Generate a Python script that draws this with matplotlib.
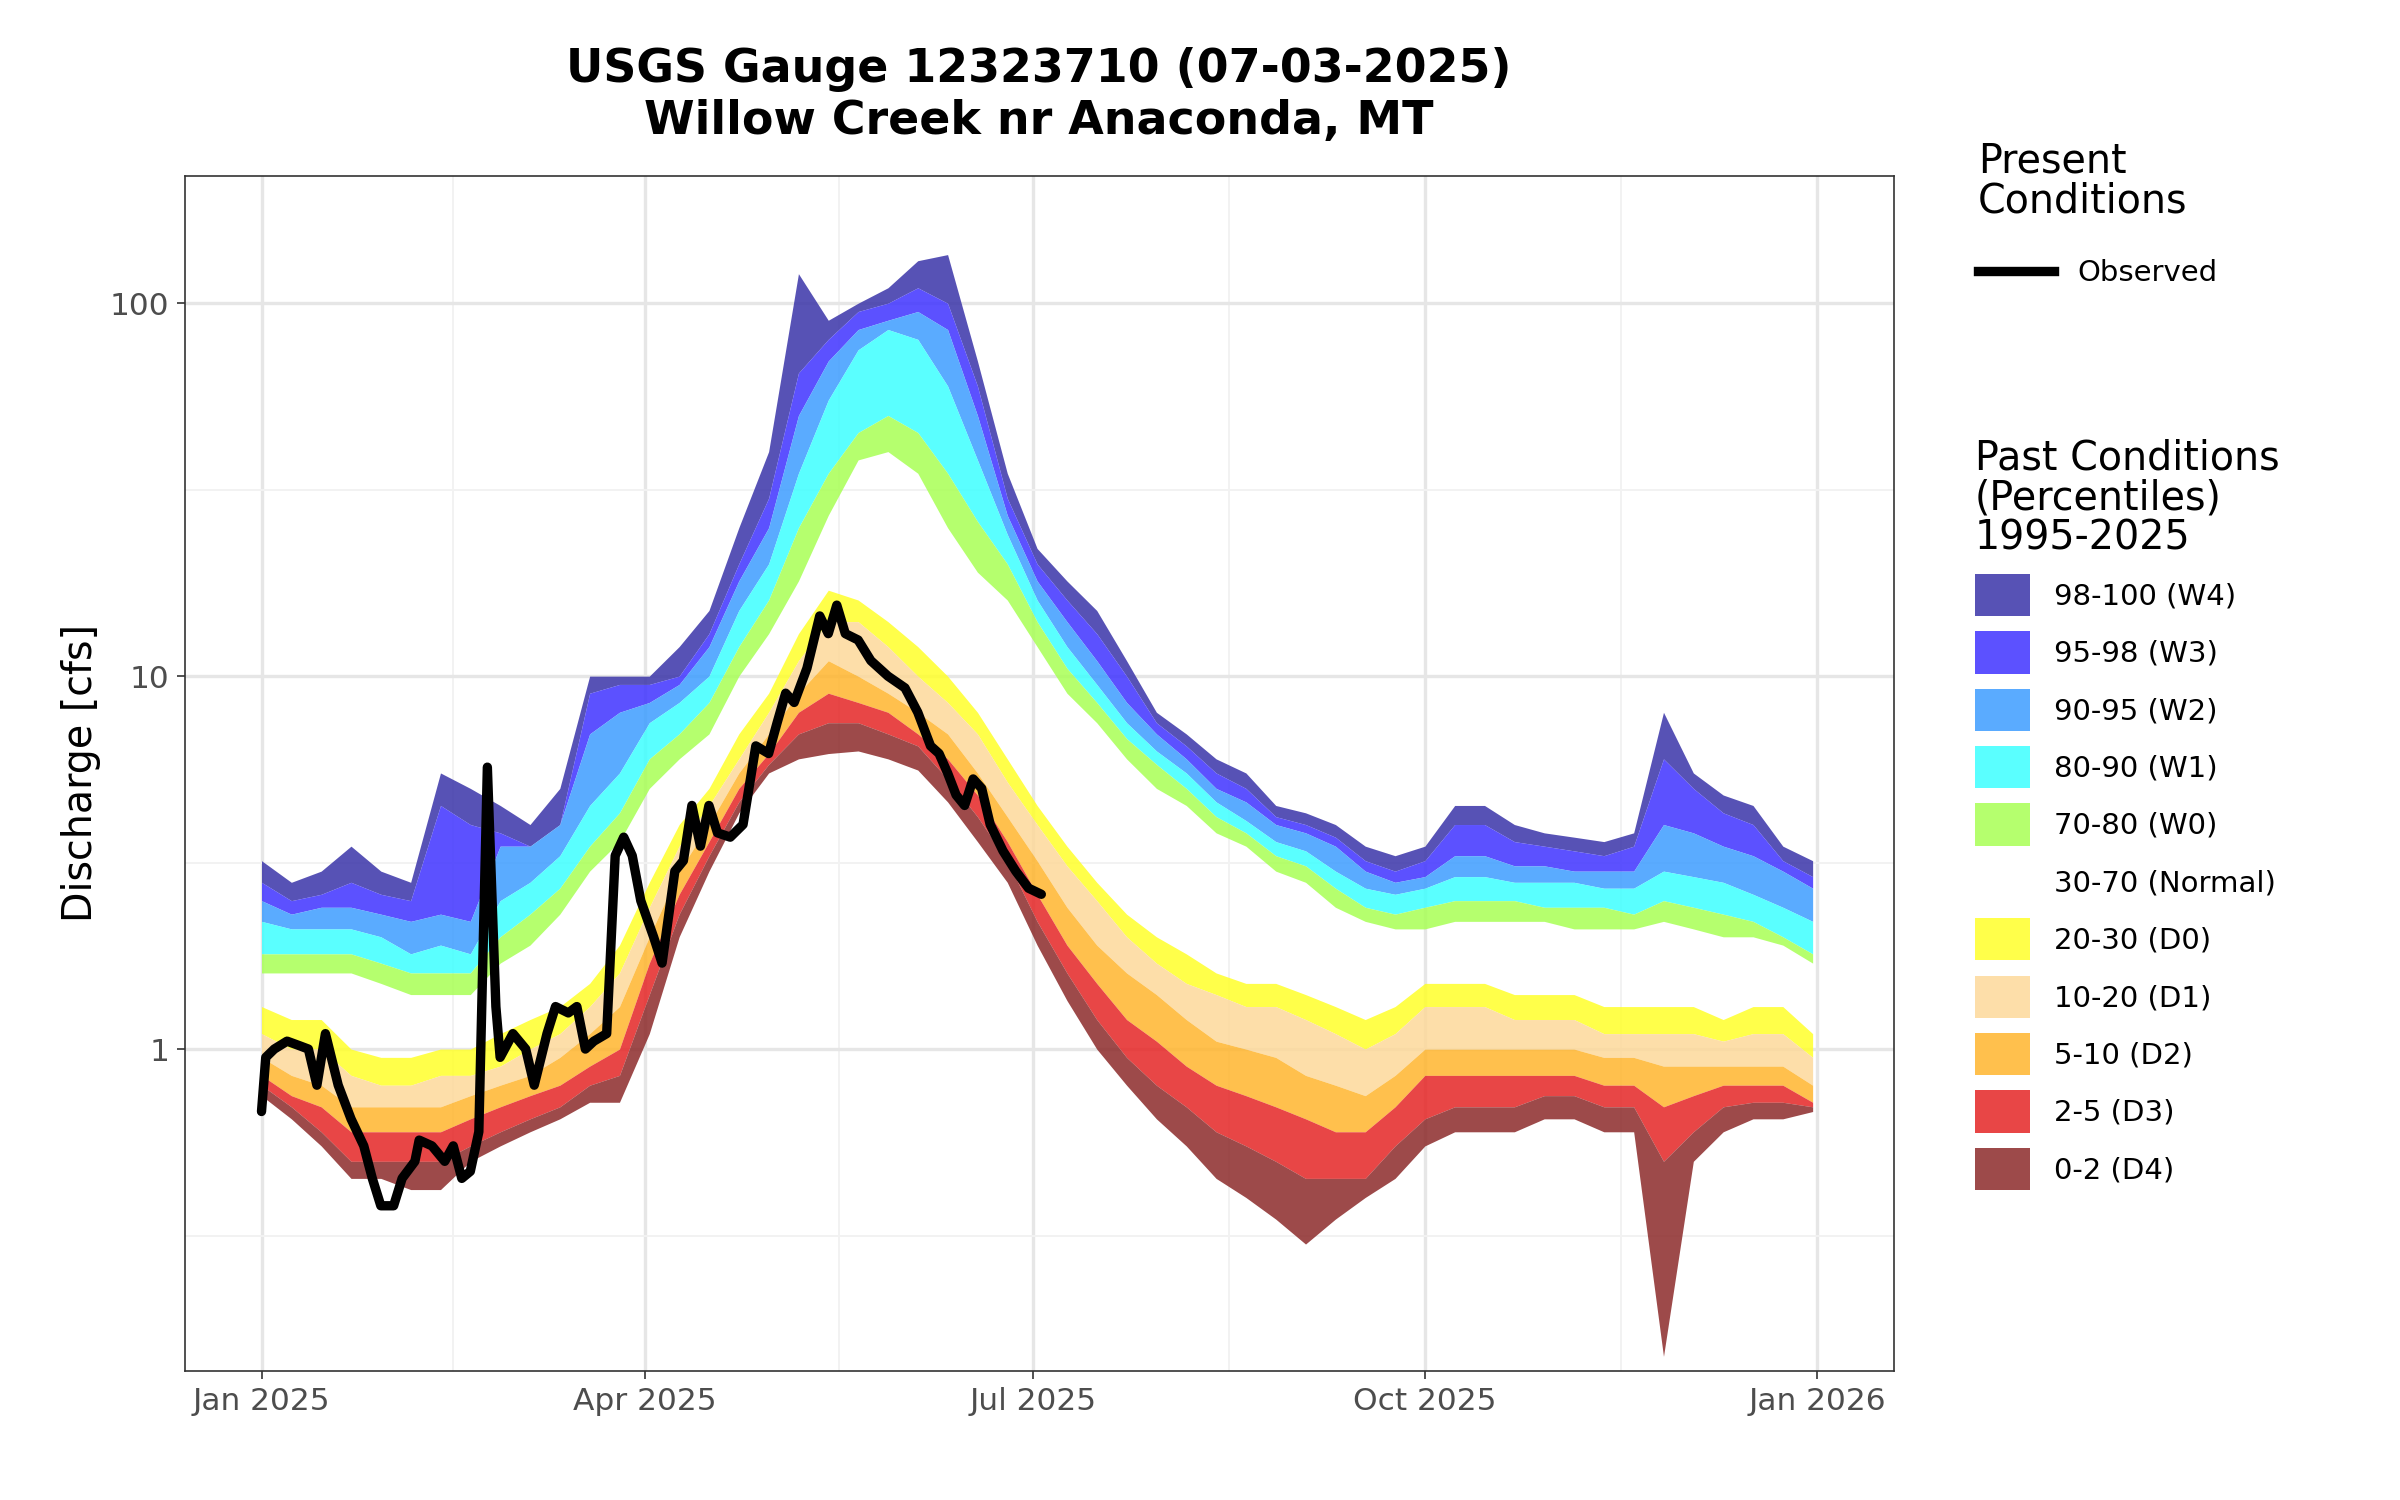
import numpy as np
import matplotlib.pyplot as plt
from matplotlib.patches import Patch
from matplotlib.lines import Line2D

# weekly percentile boundaries (day 0, 7, ..., 364), cfs
week_days = np.arange(0, 365, 7)
p100 = [3.2,2.8,3.0,3.5,3.0,2.8,5.5,5.0,4.5,4.0,5.0,10,10,10,12,15,25,40,120,90,100,110,130,135,70,35,22,18,15,11,8,7,6,5.5,4.5,4.3,4.0,3.5,3.3,3.5,4.5,4.5,4.0,3.8,3.7,3.6,3.8,8,5.5,4.8,4.5,3.5,3.2]
p98 = [2.8,2.5,2.6,2.8,2.6,2.5,4.5,4.0,3.8,3.5,4.0,9,9.5,9.5,10,13,20,30,65,80,95,100,110,100,60,30,20,16,13,10,7.5,6.5,5.5,5,4.2,4.0,3.7,3.2,3.0,3.2,4.0,4.0,3.6,3.5,3.4,3.3,3.5,6,5,4.3,4,3.2,2.9]
p95 = [2.5,2.3,2.4,2.4,2.3,2.2,2.3,2.2,3.5,3.5,4,7,8,8.5,9.5,12,18,25,50,70,85,90,95,85,50,27,18,14,11,8.5,7,6,5,4.6,4,3.8,3.5,3,2.8,2.9,3.3,3.3,3.1,3.1,3.0,3.0,3.0,4,3.8,3.5,3.3,3.0,2.7]
p90 = [2.2,2.1,2.1,2.1,2.0,1.8,1.9,1.8,2.5,2.8,3.3,4.5,5.5,7.5,8.5,10,15,20,35,55,75,85,80,60,38,24,16,12,9.5,7.5,6.3,5.5,4.6,4.1,3.6,3.4,3.0,2.7,2.6,2.7,2.9,2.9,2.8,2.8,2.8,2.7,2.7,3.0,2.9,2.8,2.6,2.4,2.2]
p80 = [1.8,1.8,1.8,1.8,1.7,1.6,1.6,1.6,2.0,2.3,2.7,3.5,4.3,6,7,8.5,12,16,25,35,45,50,45,35,26,20,14,10.5,8.5,6.8,5.8,5,4.2,3.8,3.3,3.1,2.7,2.4,2.3,2.4,2.5,2.5,2.5,2.4,2.4,2.4,2.3,2.5,2.4,2.3,2.2,2.0,1.8]
p70 = [1.6,1.6,1.6,1.6,1.5,1.4,1.4,1.4,1.7,1.9,2.3,3.0,3.6,5,6,7,10,13,18,27,38,40,35,25,19,16,12,9,7.5,6,5,4.5,3.8,3.5,3,2.8,2.4,2.2,2.1,2.1,2.2,2.2,2.2,2.2,2.1,2.1,2.1,2.2,2.1,2.0,2.0,1.9,1.7]
p30 = [1.3,1.2,1.2,1.0,0.95,0.95,1.0,1.0,1.1,1.2,1.3,1.5,1.9,2.8,4,5,7,9,13,17,16,14,12,10,8,6,4.5,3.5,2.8,2.3,2.0,1.8,1.6,1.5,1.5,1.4,1.3,1.2,1.3,1.5,1.5,1.5,1.4,1.4,1.4,1.3,1.3,1.3,1.3,1.2,1.3,1.3,1.1]
p20 = [1.1,1.0,1.0,0.85,0.8,0.8,0.85,0.85,0.9,1.0,1.1,1.3,1.6,2.4,3.5,4.5,6,8,11,14,14,12,10,8.5,7,5.2,4,3.1,2.5,2.0,1.7,1.5,1.4,1.3,1.3,1.2,1.1,1.0,1.1,1.3,1.3,1.3,1.2,1.2,1.2,1.1,1.1,1.1,1.1,1.05,1.1,1.1,0.95]
p10 = [0.95,0.85,0.8,0.7,0.7,0.7,0.7,0.75,0.8,0.85,0.95,1.1,1.3,2.0,3.0,4.0,5.5,7,9,11,10,9,8,7,5.5,4.2,3.2,2.4,1.9,1.6,1.4,1.2,1.05,1.0,0.95,0.85,0.8,0.75,0.85,1.0,1.0,1.0,1.0,1.0,1.0,0.95,0.95,0.9,0.9,0.9,0.9,0.9,0.8]
p5 = [0.85,0.75,0.7,0.6,0.6,0.6,0.6,0.65,0.7,0.75,0.8,0.9,1.0,1.7,2.6,3.6,5,6.2,8,9,8.5,8,7,6,4.8,3.6,2.6,1.9,1.5,1.2,1.05,0.9,0.8,0.75,0.7,0.65,0.6,0.6,0.7,0.85,0.85,0.85,0.85,0.85,0.85,0.8,0.8,0.7,0.75,0.8,0.8,0.8,0.72]
p2 = [0.8,0.7,0.6,0.5,0.5,0.5,0.5,0.55,0.6,0.65,0.7,0.8,0.85,1.4,2.3,3.3,4.6,5.8,7,7.5,7.5,7,6.5,5.3,4.2,3.2,2.2,1.6,1.2,0.95,0.8,0.7,0.6,0.55,0.5,0.45,0.45,0.45,0.55,0.65,0.7,0.7,0.7,0.75,0.75,0.7,0.7,0.5,0.6,0.7,0.72,0.72,0.7]
p0 = [0.75,0.65,0.55,0.45,0.45,0.42,0.42,0.5,0.55,0.6,0.65,0.72,0.72,1.1,2.0,3.0,4.3,5.5,6,6.2,6.3,6.0,5.6,4.6,3.6,2.8,1.9,1.35,1.0,0.8,0.65,0.55,0.45,0.4,0.35,0.3,0.35,0.4,0.45,0.55,0.6,0.6,0.6,0.65,0.65,0.6,0.6,0.15,0.5,0.6,0.65,0.65,0.68]

# observed discharge 2025 (day of year, cfs)
obs_day = [0,1,3,6,9,11,13,15,18,21,24,26,28,31,33,36,37,40,43,45,47,49,51,53,55,56,59,62,64,67,69,72,74,76,78,81,83,85,87,89,92,94,97,99,101,103,105,107,110,113,116,119,121,123,125,128,131,133,135,137,140,143,147,151,154,157,159,161,163,165,167,169,171,174,177,180,183]
obs_q = [0.68,0.95,1.0,1.05,1.02,1.0,0.8,1.1,0.8,0.65,0.55,0.45,0.38,0.38,0.45,0.5,0.57,0.55,0.5,0.55,0.45,0.47,0.6,5.7,1.3,0.95,1.1,1.0,0.8,1.1,1.3,1.25,1.3,1.0,1.05,1.1,3.3,3.7,3.3,2.5,2.0,1.7,3.0,3.2,4.5,3.5,4.5,3.8,3.7,4.0,6.5,6.2,7.5,9.0,8.5,10.5,14.5,13,15.5,13,12.5,11,10,9.3,8,6.5,6.2,5.5,4.8,4.5,5.3,5.0,4.0,3.4,3.0,2.7,2.6]

band_labels = ["98-100 (W4)","95-98 (W3)","90-95 (W2)","80-90 (W1)","70-80 (W0)","30-70 (Normal)",
               "20-30 (D0)","10-20 (D1)","5-10 (D2)","2-5 (D3)","0-2 (D4)"]
band_colors = ["#3a34a8","#3f33ff","#3d9dff","#3dffff","#a8ff55","#ffffff",
               "#ffff2a","#fdd99a","#ffb52e","#e52525","#8c2a2a"]
bounds = [p100,p98,p95,p90,p80,p70,p30,p20,p10,p5,p2,p0]

fig = plt.figure(figsize=(16, 10), dpi=150)
ax = fig.add_axes([0.077, 0.086, 0.712, 0.797])
for i, (lab, col) in enumerate(zip(band_labels, band_colors)):
    if lab.startswith("30-70"):
        continue
    ax.fill_between(week_days, bounds[i+1], bounds[i], color=col, alpha=0.85, lw=0, zorder=2)
ax.plot(obs_day, obs_q, color="black", lw=4.5, zorder=3, solid_capstyle="round")

ax.set_yscale("log")
ax.set_ylim(0.137, 220)
ax.set_yticks([1, 10, 100])
ax.set_yticklabels(["1", "10", "100"])
ax.set_yticks([0.316, 3.16, 31.6], minor=True)
ax.yaxis.set_minor_formatter(plt.NullFormatter())
ax.set_xlim(-18, 383)
ax.set_xticks([0, 90, 181, 273, 365])
ax.set_xticklabels(["Jan 2025", "Apr 2025", "Jul 2025", "Oct 2025", "Jan 2026"])
ax.set_xticks([45, 135.5, 227, 319], minor=True)
ax.grid(True, which="major", color="#e6e6e6", lw=1.6, zorder=0)
ax.grid(True, which="minor", color="#f2f2f2", lw=0.9, zorder=0)
ax.set_axisbelow(True)
for s in ax.spines.values():
    s.set_color("#333333")
ax.tick_params(which="both", length=4, color="#333333", labelsize=15, labelcolor="#4d4d4d")
ax.tick_params(which="minor", length=0)
ax.set_ylabel("Discharge [cfs]", fontsize=19)
ax.set_title("USGS Gauge 12323710 (07-03-2025)\nWillow Creek nr Anaconda, MT",
             fontsize=22, fontweight="bold", pad=20)

leg1 = fig.legend(handles=[Line2D([], [], color="black", lw=4.5)], labels=["Observed"],
                  title="Present\nConditions", loc="upper left", bbox_to_anchor=(0.812, 0.925),
                  frameon=False, fontsize=14, title_fontsize=19, handlelength=2.6,
                  borderpad=0.5)
leg1.get_title().set_linespacing(1.0)
leg1._legend_box.sep = 18
leg1._legend_box.align = "left"
handles = [Patch(facecolor=c, alpha=0.85 if c != "#ffffff" else 1, edgecolor="none") for c in band_colors]
leg2 = fig.legend(handles=handles, labels=band_labels, title="Past Conditions\n(Percentiles)\n1995-2025",
                  loc="upper left", bbox_to_anchor=(0.812, 0.725), frameon=False, fontsize=14,
                  title_fontsize=19, handlelength=1.9, handleheight=1.85, labelspacing=0.52)
leg2.get_title().set_linespacing(1.0)
leg2._legend_box.align = "left"

fig.savefig("out.png")
